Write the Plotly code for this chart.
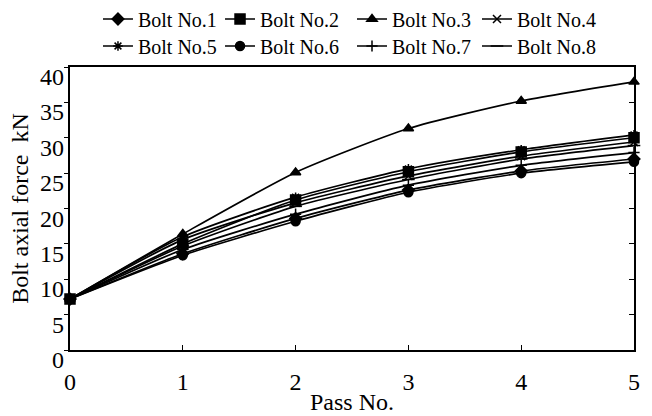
import plotly.graph_objects as go

# Pass number (x axis)
passes = [0, 1, 2, 3, 4, 5]

# Bolt axial force, kN, per bolt
bolt_names = ["Bolt No.1", "Bolt No.2", "Bolt No.3", "Bolt No.4",
              "Bolt No.5", "Bolt No.6", "Bolt No.7", "Bolt No.8"]
bolt1 = [7.2, 13.6, 18.6, 22.6, 25.3, 27.0]
bolt2 = [7.2, 15.0, 21.2, 25.2, 28.0, 30.0]
bolt3 = [7.2, 16.4, 25.1, 31.3, 35.2, 37.9]
bolt4 = [7.2, 15.6, 20.8, 24.6, 27.4, 29.4]
bolt5 = [7.2, 16.0, 21.6, 25.6, 28.3, 30.4]
bolt6 = [7.2, 13.4, 18.2, 22.3, 25.0, 26.6]
bolt7 = [7.2, 14.2, 19.2, 23.3, 26.1, 27.9]
bolt8 = [7.2, 14.7, 20.3, 24.1, 27.0, 28.9]

y_ticks = [0, 5, 10, 15, 20, 25, 30, 35, 40]
x_ticks = [0, 1, 2, 3, 4, 5]

series = [bolt1, bolt2, bolt3, bolt4, bolt5, bolt6, bolt7, bolt8]
symbols = ["diamond", "square", "triangle-up", "x-thin", "asterisk",
           "circle", "cross-thin", "line-ew"]
sizes = [9, 10, 9, 8, 8, 9, 8, 9]

FONT = "Liberation Serif, Times New Roman, serif"

# legend grid: 4 columns x 2 rows above the plot (paper coordinates, row centres)
legend_cols = [0.0496, 0.266, 0.500, 0.7216]
legend_rows = [1.1696, 1.0742]

fig = go.Figure()
legends = {}
for i, (name, vals, sym, sz) in enumerate(zip(bolt_names, series, symbols, sizes)):
    key = "legend" if i == 0 else f"legend{i + 1}"
    fig.add_trace(go.Scatter(
        x=passes, y=vals, name=name, mode="lines+markers", legend=key,
        line=dict(color="black", width=1.7, shape="spline", smoothing=0.6),
        marker=dict(symbol=sym, size=sz, color="black",
                    line=dict(color="black", width=1.5)),
        cliponaxis=False,
    ))
    legends[key] = dict(
        orientation="h", xanchor="left", yanchor="middle",
        x=legend_cols[i % 4], y=legend_rows[i // 4],
        font=dict(family=FONT, size=20, color="black"),
        itemwidth=30, bgcolor="rgba(0,0,0,0)",
    )

# right-hand axis carrying inward ticks only
fig.add_trace(go.Scatter(x=[None], y=[None], yaxis="y2", showlegend=False,
                         hoverinfo="skip"))

# y tick labels sit just below their tick marks
tick_labels = [
    dict(x=0, xref="paper", y=v, yref="y", text=str(v), showarrow=False,
         xanchor="right", yanchor="middle", xshift=-4, yshift=-10,
         font=dict(family=FONT, size=24, color="black"))
    for v in y_ticks
]

fig.update_layout(
    width=652, height=416,
    margin=dict(l=70, r=18, t=67, b=66, autoexpand=False),
    paper_bgcolor="white", plot_bgcolor="white",
    font=dict(family=FONT, color="black", size=22),
    showlegend=True,
    **legends,
    annotations=tick_labels,
    xaxis=dict(
        range=[0, 5], tickvals=x_ticks, ticks="inside", ticklen=5,
        tickcolor="black", showline=True, linecolor="black", linewidth=1.5,
        mirror=True, showgrid=False, zeroline=False,
        ticklabelstandoff=9,
        tickfont=dict(family=FONT, size=24),
        title=dict(text="Pass No.", font=dict(family=FONT, size=24), standoff=0),
        automargin=False,
    ),
    yaxis=dict(
        range=[0, 40], tickvals=y_ticks, ticks="outside", ticklen=4,
        tickcolor="black", showline=True, linecolor="black", linewidth=1.5,
        mirror=True, showgrid=False, zeroline=False,
        showticklabels=False,
        title=dict(text="Bolt axial force  kN", font=dict(family=FONT, size=24),
                   standoff=29),
        automargin=False,
    ),
    yaxis2=dict(
        range=[0, 40], tickvals=y_ticks, overlaying="y", side="right",
        ticks="inside", ticklen=5, tickcolor="black", showticklabels=False,
        showgrid=False, zeroline=False, showline=False,
    ),
)

fig.write_html("out.html")
